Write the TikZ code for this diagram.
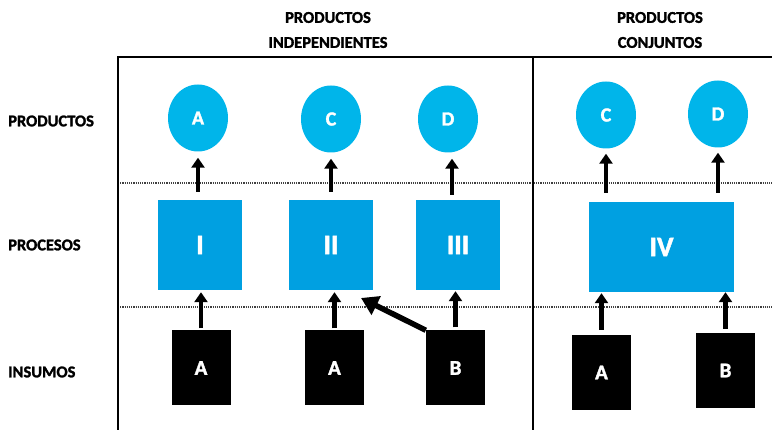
\documentclass[tikz,border=0pt]{standalone}
\usepackage{fontspec}
\setmainfont{Carlito}[BoldFeatures={FakeBold=1.6}]
\usetikzlibrary{positioning,shapes.geometric,arrows.meta}

\definecolor{prodblue}{HTML}{00B5EA}
\definecolor{procblue}{HTML}{00A0E1}

\begin{document}
\begin{tikzpicture}[x=1pt,y=-1pt]
\tikzstyle{prod}=[ellipse, fill=prodblue, minimum width=60pt, minimum height=67pt, inner sep=0pt, text=white, font=\bfseries\fontsize{20}{24}\selectfont]
\tikzstyle{proc}=[rectangle, fill=procblue, minimum width=84pt, minimum height=90pt, inner sep=0pt, text=white, font=\bfseries\fontsize{28}{32}\selectfont]
\tikzstyle{insumo}=[rectangle, fill=black, minimum width=59pt, minimum height=75pt, inner sep=0pt, text=white, font=\bfseries\fontsize{21}{24}\selectfont]
\tikzstyle{rowlabel}=[anchor=west, inner sep=0pt, font=\bfseries\fontsize{16.5}{19}\selectfont]
\tikzstyle{header}=[align=center, inner sep=0pt, font=\bfseries\fontsize{16.5}{25}\selectfont]
\tikzstyle{connect}=[-{Triangle[width=13pt,length=10pt]}, line width=4.5pt]
\tikzstyle{frame}=[line width=2.5pt]
\tikzstyle{sep}=[densely dotted, line width=1.2pt, black!75]
  \useasboundingbox (0,0) rectangle (772,430);

  % cuadro
  \draw[sep] (118,183) -- (772,183);
  \draw[sep] (118,307) -- (772,307);
  \draw[frame] (118,430) -- (118,57) -- (772,57);
  \draw[frame] (533,57) -- (533,430);

  % encabezados y filas
  \node[header] (indep) at (328,30) {PRODUCTOS\\INDEPENDIENTES};
  \node[header] (conj) at (660,30) {PRODUCTOS\\CONJUNTOS};
  \node[rowlabel] (lprod) at (8,121) {PRODUCTOS};
  \node[rowlabel] (lproc) at (8,245) {PROCESOS};
  \node[rowlabel] (lins) at (8,372) {INSUMOS};

  % procesos
  \node[proc] (procI) at (200,245) {I};
  \node[proc] (procII) at (331,245) {II};
  \node[proc] (procIII) at (458,245) {III};
  \node[proc, minimum width=145pt] (procIV) at (661.5,247) {IV};

  % productos
  \node[prod] (pA) at (198,118) {A};
  \node[prod] (pC) at (331,119) {C};
  \node[prod] (pD) at (448,119) {D};
  \node[prod] (pC') at (606,115) {C};
  \node[prod] (pD') at (718,114) {D};

  % insumos
  \node[insumo] (iA) at (201,368) {A};
  \node[insumo] (iA') at (334.5,368) {A};
  \node[insumo] (iB) at (455.5,368) {B};
  \node[insumo] (iA'') at (601.5,372.5) {A};
  \node[insumo] (iB') at (725.5,370.5) {B};

  \coordinate (tipII) at (361,298);

  \path (iA.north) edge [connect, shorten <=2pt, shorten >=2pt] (iA.north |- procI.south)
	(iA'.north) edge [connect, shorten <=2pt, shorten >=2pt] (iA'.north |- procII.south)
	(iB.north) edge [connect, shorten <=3pt, shorten >=1pt] (iB.north |- procIII.south)
	(iA''.north) edge [connect, shorten <=5pt, shorten >=1pt] (iA''.north |- procIV.south)
	(iB'.north) edge [connect, shorten <=4pt, shorten >=0pt] (iB'.north |- procIV.south);

  \path (procI.north -| pA) edge [connect, shorten <=8pt, shorten >=6pt] (pA.south)
	(procII.north -| pC) edge [connect, shorten <=8pt, shorten >=6pt] (pC.south)
	(procIII.north -| 452,0) edge [connect, shorten <=5pt, shorten >=6pt] (pD.south -| 452,0)
	(procIV.north -| pC') edge [connect, shorten <=9pt, shorten >=5pt] (pC'.south)
	(procIV.north -| pD') edge [connect, shorten <=9pt, shorten >=5pt] (pD'.south);

  \draw[-{Triangle[width=20pt,length=17pt]}, line width=5.5pt] (iB.north west) -- (tipII);
\end{tikzpicture}
\end{document}
